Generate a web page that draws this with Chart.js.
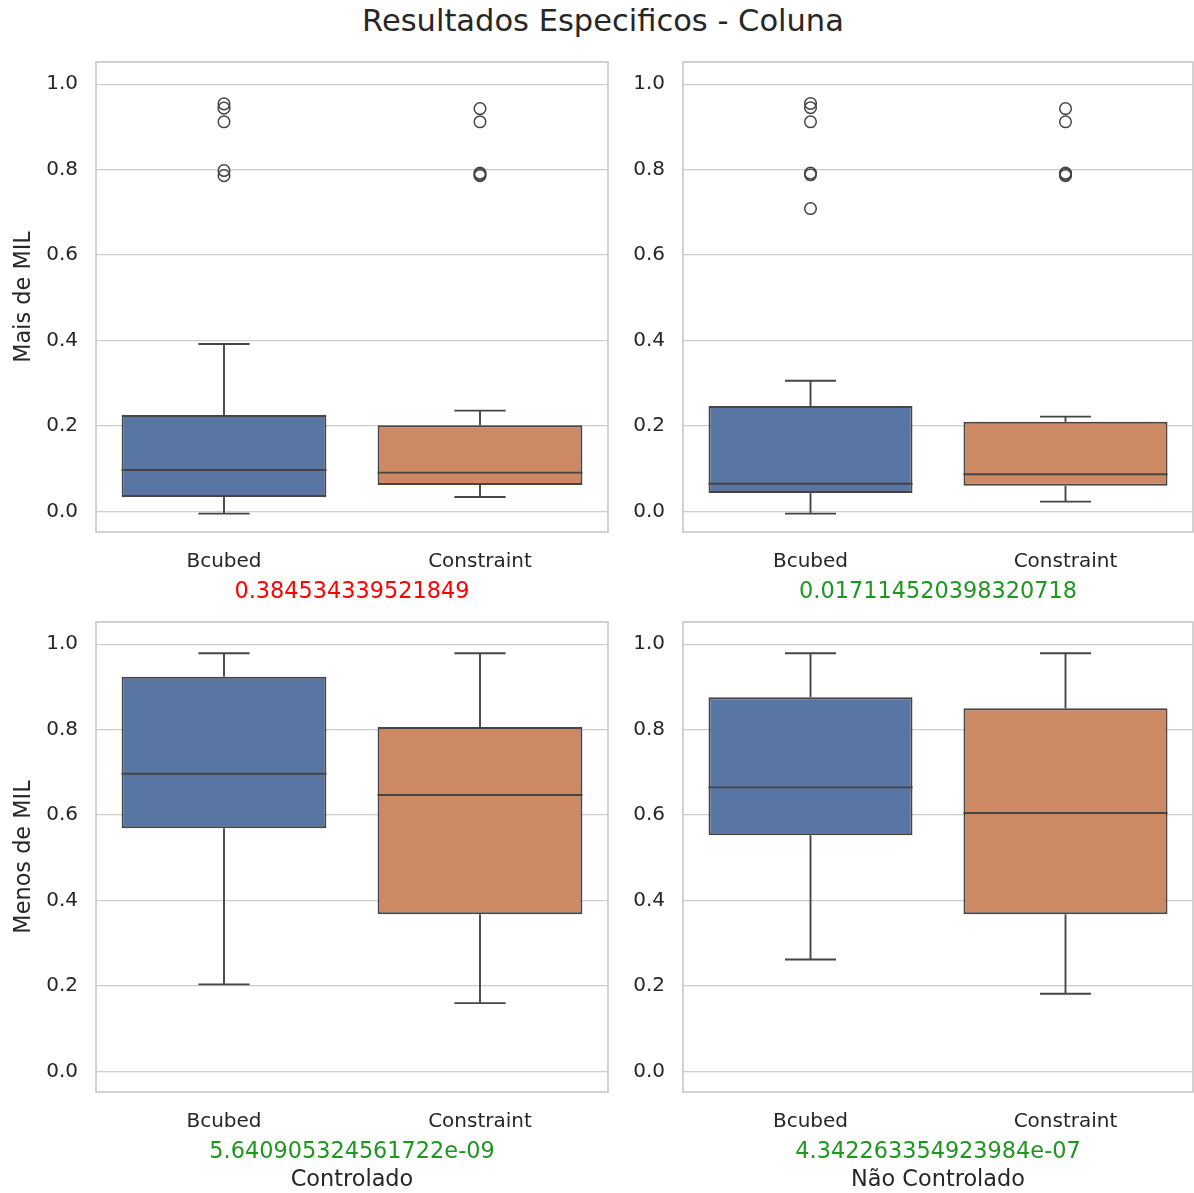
<!DOCTYPE html>
<html>
<head>
<meta charset="utf-8">
<script src="https://cdn.jsdelivr.net/npm/chart.js@4.4.1/dist/chart.umd.min.js"></script>
<style>
  html, body { margin: 0; padding: 0; background: #ffffff; overflow: hidden; width: 1194px; height: 1193px; }
  #suptitle { position: absolute; left: 0; top: 3px; width: 1206px; text-align: center;
              font: 30.5px 'DejaVu Sans', sans-serif; line-height: 36px; color: #262626; }
  canvas { position: absolute; }
</style>
</head>
<body>
<div id="suptitle">Resultados Especificos - Coluna</div>
<canvas id="p0" width="610" height="545" style="left:0px;top:58px;width:610px;height:545px"></canvas>
<canvas id="p1" width="585" height="545" style="left:610px;top:58px;width:585px;height:545px"></canvas>
<canvas id="p2" width="610" height="574" style="left:0px;top:618px;width:610px;height:574px"></canvas>
<canvas id="p3" width="585" height="574" style="left:610px;top:618px;width:585px;height:574px"></canvas>
<script>
// Categories and y ticks shared by all four panels
const categories = ['Bcubed', 'Constraint'];
const yTicks = [0.0, 0.2, 0.4, 0.6, 0.8, 1.0];
const rowLabels = ['Mais de MIL', 'Menos de MIL'];
const colLabels = ['Controlado', 'Não Controlado'];
const pValues = ['0.384534339521849', '0.017114520398320718', '5.640905324561722e-09', '4.342263354923984e-07'];

// Box summaries: [lower whisker, Q1, median, Q3, upper whisker]
const maisCtrlBcubed = [-0.005, 0.034, 0.097, 0.226, 0.392];
const maisCtrlConstraint = [0.034, 0.062, 0.091, 0.202, 0.236];
const maisNaoCtrlBcubed = [-0.005, 0.043, 0.065, 0.247, 0.306];
const maisNaoCtrlConstraint = [0.023, 0.060, 0.087, 0.210, 0.222];
const menosCtrlBcubed = [0.204, 0.569, 0.697, 0.924, 0.979];
const menosCtrlConstraint = [0.160, 0.368, 0.647, 0.806, 0.979];
const menosNaoCtrlBcubed = [0.262, 0.553, 0.665, 0.876, 0.979];
const menosNaoCtrlConstraint = [0.182, 0.368, 0.605, 0.850, 0.979];

// Outliers beyond the whiskers
const maisCtrlBcubedOut = [0.954, 0.944, 0.912, 0.798, 0.786];
const maisCtrlConstraintOut = [0.943, 0.912, 0.792, 0.789, 0.786];
const maisNaoCtrlBcubedOut = [0.955, 0.945, 0.912, 0.792, 0.788, 0.709];
const maisNaoCtrlConstraintOut = [0.943, 0.912, 0.792, 0.789, 0.786];
const menosCtrlBcubedOut = [];
const menosCtrlConstraintOut = [];
const menosNaoCtrlBcubedOut = [];
const menosNaoCtrlConstraintOut = [];

const TEXT = '#262626';
const LINE = '#454545';
const GRID = '#cccccc';
const FILLS = ['#5875a4', '#cc8963'];

Chart.defaults.font.family = "'DejaVu Sans', sans-serif";
Chart.defaults.color = TEXT;

// Frame, whiskers, caps and medians drawn from the dataset's summaries
const boxPlot = {
  id: 'boxPlot',
  beforeDatasetsDraw(chart) {
    const { ctx, chartArea: a } = chart;
    ctx.save();
    ctx.strokeStyle = GRID;
    ctx.lineWidth = 1.8;
    ctx.strokeRect(a.left, a.top, a.width, a.height);
    ctx.restore();
  },
  afterDatasetsDraw(chart) {
    const { ctx, scales: { x, y } } = chart;
    const stats = chart.data.datasets[0].stats;
    const bars = chart.getDatasetMeta(0).data;
    const step = x.getPixelForValue(1) - x.getPixelForValue(0);
    const cap = step * 0.2;
    const seg = (x1, y1, x2, y2) => { ctx.beginPath(); ctx.moveTo(x1, y1); ctx.lineTo(x2, y2); ctx.stroke(); };
    ctx.save();
    ctx.strokeStyle = LINE;
    ctx.lineWidth = 1.9;
    stats.forEach((s, i) => {
      const cx = x.getPixelForValue(i);
      const [lo, q1, med, q3, hi] = s.map(v => y.getPixelForValue(v));
      const half = bars[i].width / 2;
      seg(cx, q1, cx, lo);
      seg(cx, q3, cx, hi);
      seg(cx - cap / 2, lo, cx + cap / 2, lo);
      seg(cx - cap / 2, hi, cx + cap / 2, hi);
      seg(cx - half, med, cx + half, med);
    });
    ctx.restore();
  }
};

function panel(id, opts) {
  const { stats, outliers, pValue, rowLabel, colLabel, axisWidth } = opts;
  const points = [];
  outliers.forEach((arr, i) => arr.forEach(v => points.push({ x: categories[i], y: v })));
  const pColor = parseFloat(pValue) < 0.05 ? '#1f961f' : '#ff0000';
  return new Chart(document.getElementById(id), {
    type: 'bar',
    data: {
      labels: categories,
      datasets: [
        {
          type: 'bar',
          stats: stats,
          data: stats.map(s => [s[1], s[3]]),
          backgroundColor: FILLS,
          borderColor: LINE,
          borderWidth: 2,
          borderSkipped: false,
          categoryPercentage: 0.8,
          barPercentage: 1.0
        },
        {
          type: 'line',
          data: points,
          showLine: false,
          pointRadius: 5.8,
          pointHoverRadius: 5.8,
          pointBorderWidth: 1.5,
          pointBorderColor: LINE,
          pointBackgroundColor: 'rgba(0,0,0,0)'
        }
      ]
    },
    options: {
      responsive: false,
      animation: false,
      events: [],
      layout: { autoPadding: false, padding: { top: 4, right: 2, bottom: 0, left: 0 } },
      plugins: {
        legend: { display: false },
        tooltip: { enabled: false },
        title: {
          display: !!colLabel,
          text: colLabel || '',
          position: 'bottom',
          fullSize: false,
          color: TEXT,
          font: { size: 22.4, weight: 'normal', lineHeight: 1 },
          padding: { top: 6, bottom: 0.6 }
        }
      },
      scales: {
        x: {
          type: 'category',
          offset: true,
          grid: { display: false },
          border: { display: false },
          ticks: { padding: 9.5, color: TEXT, font: { size: 20 } },
          title: {
            display: true,
            text: pValue,
            color: pColor,
            font: { size: 22.4, lineHeight: 1 },
            padding: { top: 0, bottom: 0 }
          },
          afterFit(s) {
            s.height = 71;
            s.paddingLeft = 0; s.paddingRight = 0; s.paddingTop = 0; s.paddingBottom = 0;
          }
        },
        y: {
          type: 'linear',
          min: -0.048,
          max: 1.052,
          afterBuildTicks(s) { s.ticks = yTicks.map(v => ({ value: v })); },
          ticks: { padding: 18, color: TEXT, font: { size: 20 }, callback: v => v.toFixed(1) },
          grid: { color: GRID, lineWidth: 1.3, drawTicks: false },
          border: { display: false },
          title: {
            display: !!rowLabel,
            text: rowLabel || '',
            color: TEXT,
            font: { size: 22.4, lineHeight: 1 },
            padding: { top: 12.5, bottom: 0 }
          },
          afterFit(s) {
            s.width = axisWidth;
            s.paddingTop = 0; s.paddingBottom = 0; s.paddingLeft = 0; s.paddingRight = 0;
          }
        }
      }
    },
    plugins: [boxPlot]
  });
}

panel('p0', {
  stats: [maisCtrlBcubed, maisCtrlConstraint],
  outliers: [maisCtrlBcubedOut, maisCtrlConstraintOut],
  pValue: pValues[0], rowLabel: rowLabels[0], colLabel: null, axisWidth: 96
});
panel('p1', {
  stats: [maisNaoCtrlBcubed, maisNaoCtrlConstraint],
  outliers: [maisNaoCtrlBcubedOut, maisNaoCtrlConstraintOut],
  pValue: pValues[1], rowLabel: null, colLabel: null, axisWidth: 73
});
panel('p2', {
  stats: [menosCtrlBcubed, menosCtrlConstraint],
  outliers: [menosCtrlBcubedOut, menosCtrlConstraintOut],
  pValue: pValues[2], rowLabel: rowLabels[1], colLabel: colLabels[0], axisWidth: 96
});
panel('p3', {
  stats: [menosNaoCtrlBcubed, menosNaoCtrlConstraint],
  outliers: [menosNaoCtrlBcubedOut, menosNaoCtrlConstraintOut],
  pValue: pValues[3], rowLabel: null, colLabel: colLabels[1], axisWidth: 73
});
</script>
</body>
</html>
